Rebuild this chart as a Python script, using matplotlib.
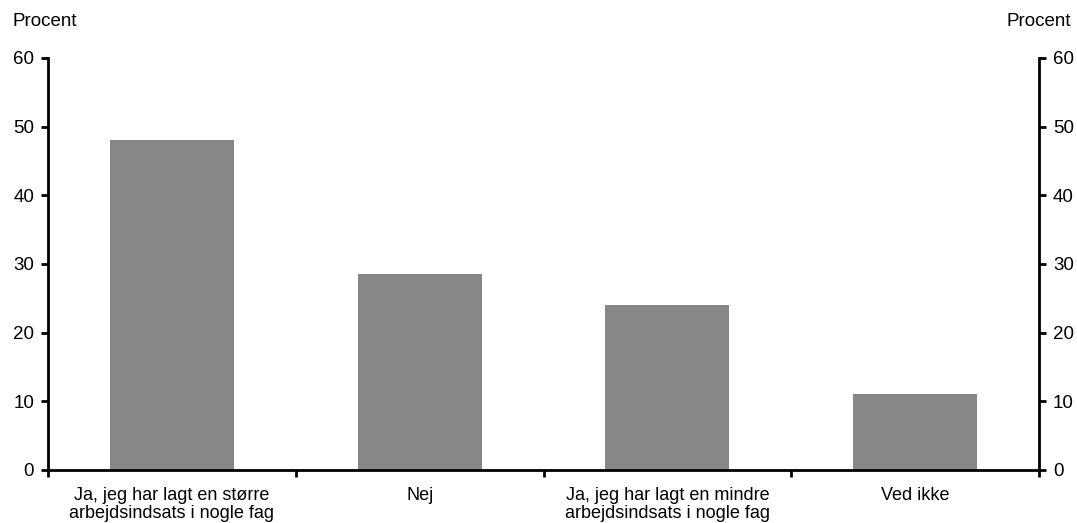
import matplotlib.pyplot as plt
import numpy as np

plt.rcParams['font.family'] = ['Liberation Sans', 'DejaVu Sans']

categories = ["Ja, jeg har lagt en større\narbejdsindsats i nogle fag",
              "Nej",
              "Ja, jeg har lagt en mindre\narbejdsindsats i nogle fag",
              "Ved ikke"]
values = [48.0, 28.5, 24.0, 11.1]
yticks = [0, 10, 20, 30, 40, 50, 60]

W, H = 1077, 523
fig = plt.figure(figsize=(W / 100, H / 100), dpi=100)
ax = fig.add_axes([48 / W, 1 - 470 / H, (1039 - 48) / W, (470 - 58) / H])

x = np.arange(len(categories))
ax.bar(x, values, width=0.5, color='#878787', zorder=2)

ax.set_xlim(-0.5, len(categories) - 0.5)
ax.set_ylim(0, 60)
ax.set_yticks(yticks)
# ticks between categories, labels centred under each bar
ax.set_xticks(np.arange(len(categories) + 1) - 0.5)
ax.set_xticklabels([])
ax.set_xticks(x, minor=True)
ax.set_xticklabels(categories, minor=True, fontsize=13, linespacing=1.1)
ax.tick_params(axis='x', which='minor', length=0, pad=12)
ax.tick_params(axis='x', which='major', length=5, width=2, direction='out')
ax.tick_params(axis='y', length=5, width=2, direction='out', labelsize=13.5,
               left=True, right=True, labelleft=True, labelright=True, pad=5)

ax.spines['top'].set_visible(False)
for s in ['left', 'right', 'bottom']:
    ax.spines[s].set_linewidth(2)

fig.text(13 / W, 1 - 22 / H, "Procent", fontsize=13.5, ha='left', va='center')
fig.text(1071 / W, 1 - 22 / H, "Procent", fontsize=13.5, ha='right', va='center')

fig.savefig("out.png", dpi=100, facecolor='white')
